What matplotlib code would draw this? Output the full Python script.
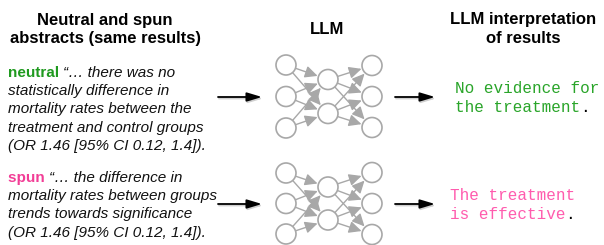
import matplotlib
matplotlib.use("Agg")
import matplotlib.pyplot as plt
from matplotlib.patches import Circle, FancyArrowPatch
import numpy as np

# ---- content ----
header_left = ["Neutral and spun", "abstracts (same results)"]
header_mid = ["LLM"]
header_right = ["LLM interpretation", "of results"]

neutral_tag = "neutral"
neutral_lines = ["\u201c\u2026 there was no",
                 "statistically difference in",
                 "mortality rates between the",
                 "treatment and control groups",
                 "(OR 1.46 [95% CI 0.12, 1.4])."]
spun_tag = "spun"
spun_lines = ["\u201c\u2026 the difference in",
              "mortality rates between groups",
              "trends towards significance",
              "(OR 1.46 [95% CI 0.12, 1.4])."]

neutral_out = ["No evidence for", "the treatment"]
spun_out = ["The treatment", "is effective"]

layer_sizes = [3, 2, 3]

GREEN = "#1f9a1f"
PINK = "#f23d96"
OUT_GREEN = "#2aa52a"
OUT_PINK = "#ff5cae"
GRAY = "#a8a8a8"

W, H = 604, 245
fig = plt.figure(figsize=(W / 100, H / 100), dpi=100)
ax = fig.add_axes([0, 0, 1, 1])
ax.set_xlim(0, W)
ax.set_ylim(H, 0)
ax.axis("off")

SANS = "Liberation Sans"
MONO = "Liberation Mono"

# headers
for i, t in enumerate(header_left):
    ax.text(105, 25 + 18 * i, t, ha="center", va="baseline", fontsize=12,
            fontweight="bold", family=SANS)
ax.text(327, 34, header_mid[0], ha="center", va="baseline", fontsize=12,
        fontweight="bold", family=SANS)
for i, t in enumerate(header_right):
    ax.text(523, 24 + 19 * i, t, ha="center", va="baseline", fontsize=12,
            fontweight="bold", family=SANS)

fig.canvas.draw()
renderer = fig.canvas.get_renderer()
inv = ax.transData.inverted()


def block(x0, y0, tag, color, lines, dy=18.2):
    tg = ax.text(x0, y0, tag + " ", ha="left", va="baseline", fontsize=11,
                 fontweight="bold", color=color, family=SANS)
    bb = tg.get_window_extent(renderer)
    xe = inv.transform((bb.x1, bb.y0))[0]
    for i, ln in enumerate(lines):
        x = xe if i == 0 else x0
        ax.text(x, y0 + dy * i, ln, ha="left", va="baseline", fontsize=11,
                style="italic", color="#111111", family=SANS)


block(8, 77, neutral_tag, GREEN, neutral_lines)
block(8, 182, spun_tag, PINK, spun_lines)


def out_block(x0, y0, lines, color, dy=19):
    last = None
    for i, ln in enumerate(lines):
        last = ax.text(x0, y0 + dy * i, ln, ha="left", va="baseline",
                       fontsize=11.5, color=color, family=MONO)
    bb = last.get_window_extent(renderer)
    xe = inv.transform((bb.x1, bb.y0))[0]
    ax.text(xe, y0 + dy * (len(lines) - 1), ".", ha="left", va="baseline",
            fontsize=11.5, color="black", family=MONO)


out_block(455, 93, neutral_out, OUT_GREEN)
out_block(450, 200, spun_out, OUT_PINK)


def black_arrow(x0, x1, y):
    style = "-|>,head_length=0.9,head_width=0.27"
    # soft shadow
    ax.annotate("", xy=(x1 + 1, y + 1.5), xytext=(x0 + 1, y + 1.5),
                arrowprops=dict(arrowstyle=style, lw=1.3, color="#d0d0d0",
                                shrinkA=0, shrinkB=0))
    ax.annotate("", xy=(x1, y), xytext=(x0, y),
                arrowprops=dict(arrowstyle=style, lw=1.3, color="black",
                                shrinkA=0, shrinkB=0))


def network(xs, cy, spacings, r=10):
    pos = []
    for n, x, sp in zip(layer_sizes, xs, spacings):
        ys = cy + (np.arange(n) - (n - 1) / 2) * sp
        pos.append([(x, y) for y in ys])
    for a, b in zip(pos[:-1], pos[1:]):
        for (x0, y0) in a:
            for (x1, y1) in b:
                d = np.hypot(x1 - x0, y1 - y0)
                ux, uy = (x1 - x0) / d, (y1 - y0) / d
                p = FancyArrowPatch((x0 + ux * r, y0 + uy * r),
                                    (x1 - ux * (r + 1), y1 - uy * (r + 1)),
                                    arrowstyle="-|>,head_length=7.5,head_width=3.6",
                                    mutation_scale=1, lw=1.0, color=GRAY,
                                    shrinkA=0, shrinkB=0)
                ax.add_patch(p)
    for layer in pos:
        for (x, y) in layer:
            ax.add_patch(Circle((x, y), r, facecolor="white", edgecolor=GRAY,
                                lw=1.2, zorder=3))


network([286, 328, 372], 96.5, [31.5, 34, 31])
network([286, 328, 372], 203.5, [30.5, 33, 31])

black_arrow(218, 262, 97)
black_arrow(395, 435, 97)
black_arrow(218, 262, 204)
black_arrow(395, 435, 204)

fig.savefig("out.png", dpi=100)
